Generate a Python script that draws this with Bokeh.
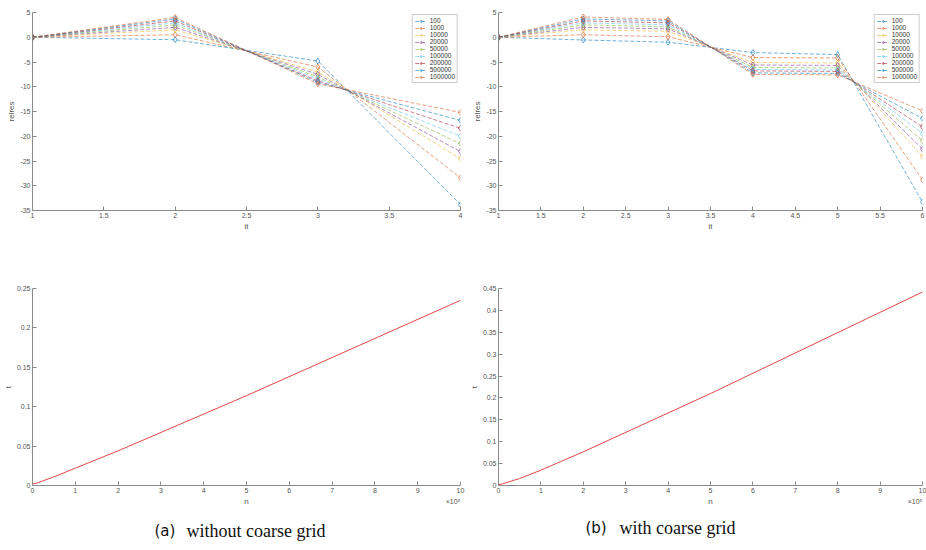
from bokeh.plotting import figure
from bokeh.layouts import column, row
from bokeh.models import Range1d, FixedTicker, CustomJSTickFormatter, Legend, LegendItem, Title
from bokeh.core.properties import value
from bokeh.embed import file_html
from bokeh.resources import INLINE

# ---------------- data ----------------
series_labels = ["100", "1000", "10000", "20000", "50000", "100000", "200000", "500000", "1000000"]
colors = ["#0072BD", "#D95319", "#EDB120", "#7E2F8E", "#77AC30", "#4DBEEE", "#A2142F", "#0072BD", "#D95319"]

# (a) without coarse grid: relres per iteration
it_a = [1, 2, 3, 4]
relres_a_100 = [0, -0.5, -4.8, -33.8]
relres_a_1000 = [0, 0.5, -6.0, -28.4]
relres_a_10000 = [0, 1.5, -7.0, -24.5]
relres_a_20000 = [0, 2.0, -7.5, -23.1]
relres_a_50000 = [0, 2.5, -8.0, -21.5]
relres_a_100000 = [0, 2.9, -8.4, -20.0]
relres_a_200000 = [0, 3.3, -8.8, -18.4]
relres_a_500000 = [0, 3.7, -9.1, -16.8]
relres_a_1000000 = [0, 4.0, -9.4, -15.2]

# (b) with coarse grid
it_b = [1, 2, 3, 4, 5, 6]
relres_b_100 = [0, -0.55, -1.0, -3.1, -3.5, -33.3]
relres_b_1000 = [0, 0.5, 0.1, -4.1, -4.2, -28.8]
relres_b_10000 = [0, 1.5, 1.2, -5.1, -5.2, -24.1]
relres_b_20000 = [0, 2.0, 1.7, -5.6, -5.7, -22.6]
relres_b_50000 = [0, 2.5, 2.1, -6.1, -6.2, -20.9]
relres_b_100000 = [0, 2.9, 2.5, -6.5, -6.6, -19.4]
relres_b_200000 = [0, 3.3, 2.9, -6.8, -6.9, -18.1]
relres_b_500000 = [0, 3.7, 3.3, -7.2, -7.3, -16.4]
relres_b_1000000 = [0, 4.1, 3.6, -7.5, -7.6, -14.9]

# timing vs n
n_vals = [100, 1000, 10000, 20000, 50000, 100000, 200000, 500000, 1000000]
t_a = [0.002, 0.002, 0.003, 0.005, 0.011, 0.022, 0.044, 0.114, 0.235]
t_b = [0.0015, 0.002, 0.004, 0.007, 0.016, 0.035, 0.077, 0.210, 0.442]

x_ticks_a = [1, 1.5, 2, 2.5, 3, 3.5, 4]
x_ticks_b = [1, 1.5, 2, 2.5, 3, 3.5, 4, 4.5, 5, 5.5, 6]
y_ticks_top = [-35, -30, -25, -20, -15, -10, -5, 0, 5]
y_ticks_ta = [0, 0.05, 0.1, 0.15, 0.2, 0.25]
y_ticks_tb = [0, 0.05, 0.1, 0.15, 0.2, 0.25, 0.3, 0.35, 0.4, 0.45]
n_ticks = [0, 100000, 200000, 300000, 400000, 500000, 600000, 700000, 800000, 900000, 1000000]

series_a = [relres_a_100, relres_a_1000, relres_a_10000, relres_a_20000, relres_a_50000,
            relres_a_100000, relres_a_200000, relres_a_500000, relres_a_1000000]
series_b = [relres_b_100, relres_b_1000, relres_b_10000, relres_b_20000, relres_b_50000,
            relres_b_100000, relres_b_200000, relres_b_500000, relres_b_1000000]

FONT = "Liberation Sans"
AX = "#8a8a8a"
TXT = "#555555"

num_fmt = CustomJSTickFormatter(code="return parseFloat(tick.toFixed(6)).toString();")


def style(p, xticks, yticks, xlabel, ylabel, xfmt=None):
    p.xaxis.ticker = FixedTicker(ticks=xticks)
    p.yaxis.ticker = FixedTicker(ticks=yticks)
    p.xaxis.formatter = xfmt if xfmt is not None else num_fmt
    p.yaxis.formatter = num_fmt
    for ax in (p.xaxis, p.yaxis):
        ax.axis_line_color = AX
        ax.major_tick_line_color = AX
        ax.major_tick_in = 4
        ax.major_tick_out = 0
        ax.minor_tick_line_color = None
        ax.major_label_text_font = FONT
        ax.major_label_text_font_size = "7px"
        ax.major_label_text_color = TXT
        ax.major_label_standoff = 2
        ax.axis_label_text_font = FONT
        ax.axis_label_text_font_size = "8px"
        ax.axis_label_text_font_style = "normal"
        ax.axis_label_text_color = TXT
        ax.axis_label_standoff = 1
    p.xaxis.axis_label = xlabel
    p.yaxis.axis_label = ylabel
    p.grid.visible = False
    p.outline_line_color = None
    p.background_fill_color = "white"
    p.border_fill_color = "white"


def relres_plot(width, height, borders, xs, series, xr, xticks):
    l, r, t, b = borders
    p = figure(width=width, height=height, output_backend="svg", toolbar_location=None,
               x_range=Range1d(*xr), y_range=Range1d(-35, 5),
               min_border_left=l, min_border_right=r, min_border_top=t, min_border_bottom=b)
    style(p, xticks, y_ticks_top, "it", "relres")
    items = []
    for lab, col, ys in zip(series_labels, colors, series):
        ln = p.line(xs, ys, line_color=col, line_width=0.8, line_dash="4 2", line_alpha=0.7)
        sc = p.scatter(xs, ys, marker="diamond", size=6, line_color=col, line_width=0.8,
                       fill_alpha=0, line_alpha=0.75)
        items.append(LegendItem(label=lab, renderers=[ln, sc]))
    leg = Legend(items=items, location="top_right", margin=2, padding=2, spacing=0,
                 label_text_font=FONT, label_text_font_size="6.5px", label_text_color="#333333",
                 label_height=6, glyph_height=6, glyph_width=12, label_standoff=3,
                 border_line_color="#999999", border_line_width=1, background_fill_alpha=1)
    p.add_layout(leg)
    return p


n_fmt = CustomJSTickFormatter(code="return (tick/1e5).toFixed(0);")


def time_plot(width, height, borders, ts, ymax, yticks):
    l, r, t, b = borders
    p = figure(width=width, height=height, output_backend="svg", toolbar_location=None,
               x_range=Range1d(0, 1000000), y_range=Range1d(0, ymax),
               min_border_left=l, min_border_right=r, min_border_top=t, min_border_bottom=b)
    style(p, n_ticks, yticks, "n", "t", xfmt=n_fmt)
    p.line(n_vals, ts, line_color="#e04848", line_width=1)
    p.add_layout(Title(text="×10⁵", align="right", vertical_align="top", text_font=FONT,
                       text_font_size="7px", text_font_style="normal", text_color=TXT,
                       standoff=-22), "below")
    return p


p1 = relres_plot(466, 240, (32, 6, 12, 30), it_a, series_a, (1, 4), x_ticks_a)
p2 = relres_plot(460, 240, (32, 4, 12, 29), it_b, series_b, (1, 6), x_ticks_b)
p3 = time_plot(466, 272, (32, 6, 48, 27), t_a, 0.25, y_ticks_ta)
p4 = time_plot(460, 272, (32, 4, 48, 27), t_b, 0.45, y_ticks_tb)

cap = figure(width=926, height=38, output_backend="svg", toolbar_location=None,
             x_range=Range1d(0, 926), y_range=Range1d(0, 38),
             x_axis_location=None, y_axis_location=None,
             min_border=0)
cap.grid.visible = False
cap.outline_line_color = None
cap.text(x=[154, 585], y=[20, 23], text=["(a)", "(b)"], text_font=value("DejaVu Sans"),
         text_font_size="15px", text_baseline="middle", text_align="left", text_color="#111111")
cap.text(x=[186, 619], y=[20, 23], text=["without coarse grid", "with coarse grid"],
         text_font=value("Liberation Serif"), text_font_size="18px", text_baseline="middle",
         text_align="left", text_color="#111111")

layout = column(row(p1, p2), row(p3, p4), cap, spacing=0)

open("out.html", "w").write(file_html(layout, INLINE))
